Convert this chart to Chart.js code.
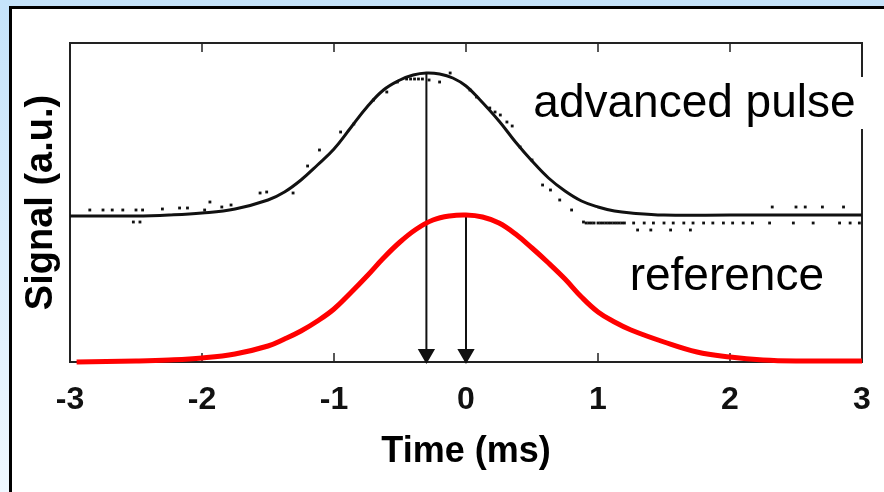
<!DOCTYPE html>
<html>
<head>
<meta charset="utf-8">
<script src="https://cdn.jsdelivr.net/npm/chart.js@4.4.0/dist/chart.umd.min.js"></script>
<style>
  html, body { margin: 0; padding: 0; }
  body {
    width: 884px; height: 492px; overflow: hidden; position: relative;
    background: linear-gradient(to bottom, #c5e3fa 0%, #dbeefd 50%, #eff8ff 100%);
  }
  #panel {
    position: absolute; left: 9px; top: 6px; right: 0; bottom: 0;
    background: #fff; border-left: 3px solid #000; border-top: 3px solid #000;
  }
  #myChart { position: absolute; left: 0; top: 0; }
</style>
</head>
<body>
<div id="panel"></div>
<canvas id="myChart" width="884" height="492"></canvas>
<script>
// time axis (ms)
const xTicks = [-3, -2, -1, 0, 1, 2, 3];

// advanced pulse (fitted curve)
const advX = [-3, -2.5, -2.25, -2, -1.75, -1.5, -1.375, -1.25, -1.125, -1, -0.875, -0.75, -0.625, -0.5, -0.4, -0.3, -0.2, -0.1,
  0, 0.1, 0.25, 0.375, 0.5, 0.625, 0.75, 0.875, 1, 1.125, 1.25, 1.5, 2, 3];
const advY = [1.46, 1.46, 1.47, 1.49, 1.53, 1.62, 1.70, 1.82, 1.97, 2.13, 2.34, 2.55, 2.72, 2.82, 2.87, 2.89, 2.88, 2.84,
  2.76, 2.63, 2.41, 2.20, 2.01, 1.84, 1.71, 1.61, 1.55, 1.51, 1.49, 1.47, 1.47, 1.47];

// advanced pulse (measured points, scattered)
const noiseX = [-2.85, -2.75, -2.68, -2.6, -2.5, -2.45, -2.52, -2.47, -2.3, -2.17, -2.11, -1.98, -1.94, -1.85, -1.78, -1.56, -1.51,
  -1.31, -1.2, -1.11, -0.95, -0.85, -0.7, -0.6, -0.52, -0.45, -0.42, -0.39, -0.36, -0.33, -0.28, -0.2, -0.12,
  0.03, 0.08, 0.18, 0.22, 0.26, 0.31, 0.35, 0.41, 0.5, 0.58, 0.64, 0.71, 0.8,
  0.89, 0.91, 0.93, 0.95, 0.97, 1.0, 1.02, 1.04, 1.06, 1.08, 1.1, 1.12, 1.14, 1.16, 1.18, 1.2,
  1.27, 1.35, 1.42, 1.5, 1.57, 1.65, 1.72, 1.8, 1.87, 1.95, 2.02, 2.1, 2.17, 2.3, 2.48, 2.63, 2.83, 2.91, 2.98,
  1.3, 1.4, 1.55, 1.7, 2.32, 2.5, 2.57, 2.7, 2.86];
const noiseY = [1.52, 1.52, 1.52, 1.52, 1.52, 1.52, 1.40, 1.40, 1.53, 1.54, 1.54, 1.52, 1.60, 1.55, 1.57, 1.69, 1.70,
  1.69, 1.96, 2.12, 2.30, 2.38, 2.62, 2.70, 2.80, 2.83, 2.83, 2.83, 2.83, 2.83, 2.82, 2.80, 2.89,
  2.72, 2.65, 2.54, 2.50, 2.47, 2.40, 2.36, 2.15, 2.02, 1.77, 1.72, 1.62, 1.52,
  1.40, 1.39, 1.39, 1.39, 1.39, 1.39, 1.39, 1.39, 1.39, 1.39, 1.39, 1.39, 1.39, 1.39, 1.39, 1.39,
  1.39, 1.39, 1.39, 1.39, 1.39, 1.39, 1.39, 1.39, 1.39, 1.39, 1.39, 1.39, 1.39, 1.39, 1.39, 1.39, 1.39, 1.39, 1.39,
  1.32, 1.32, 1.32, 1.32, 1.55, 1.55, 1.55, 1.55, 1.55];

// reference pulse
const refX = [-2.95, -2.5, -2.25, -2, -1.75, -1.5, -1.375, -1.25, -1.125, -1, -0.875, -0.75, -0.625, -0.5, -0.375, -0.25, -0.125,
  0, 0.125, 0.25, 0.375, 0.5, 0.625, 0.75, 0.875, 1, 1.125, 1.25, 1.5, 1.75, 2, 2.25, 2.5, 3];
const refY = [0.00, 0.01, 0.02, 0.04, 0.08, 0.16, 0.23, 0.31, 0.41, 0.53, 0.69, 0.86, 1.04, 1.20, 1.33, 1.42, 1.46,
  1.47, 1.45, 1.39, 1.28, 1.14, 0.99, 0.83, 0.65, 0.50, 0.40, 0.32, 0.20, 0.10, 0.05, 0.02, 0.01, 0.01];

// arrows: peak time of each pulse
const arrowX = [-0.3, 0];
const arrowTop = [2.89, 1.47];

const pts = (xs, ys) => xs.map((x, i) => ({ x: x, y: ys[i] }));

const arrowSet = (i) => ({
  data: [{ x: arrowX[i], y: arrowTop[i] }, { x: arrowX[i], y: 0.08 }],
  borderColor: '#111',
  backgroundColor: '#111',
  borderWidth: 2,
  pointRadius: [0, 8],
  pointStyle: 'triangle',
  pointRotation: 180,
  clip: false
});

const framePlugin = {
  id: 'frame',
  beforeDatasetsDraw(chart) {
    const { ctx, chartArea: a, scales: { x } } = chart;
    ctx.save();
    ctx.strokeStyle = '#222';
    ctx.lineWidth = 2;
    ctx.strokeRect(a.left, a.top, a.right - a.left, a.bottom - a.top);
    ctx.lineWidth = 1.5;
    xTicks.forEach((t) => {
      const px = x.getPixelForValue(t);
      ctx.beginPath();
      ctx.moveTo(px, a.bottom);
      ctx.lineTo(px, a.bottom - 9);
      ctx.moveTo(px, a.top);
      ctx.lineTo(px, a.top + 9);
      ctx.stroke();
    });
    ctx.restore();
  },
  afterDraw(chart) {
    const { ctx, scales: { x, y } } = chart;
    ctx.save();
    const ax = x.getPixelForValue(0.51);
    const ay = y.getPixelForValue(2.45);
    ctx.fillStyle = '#fff';
    ctx.fillRect(ax - 3, ay - 40, 884 - ax, 52);
    ctx.fillStyle = '#000';
    ctx.font = '46px "Liberation Sans", Arial, sans-serif';
    ctx.textAlign = 'left';
    ctx.textBaseline = 'alphabetic';
    ctx.fillText('advanced pulse', ax, ay);
    ctx.fillText('reference', x.getPixelForValue(1.24), y.getPixelForValue(0.72));
    ctx.restore();
  }
};

const ctx = document.getElementById('myChart');
new Chart(ctx, {
  type: 'line',
  data: {
    datasets: [
      {
        data: pts(noiseX, noiseY),
        showLine: false,
        pointStyle: 'rect',
        pointRadius: 2,
        backgroundColor: '#111',
        borderWidth: 0
      },
      {
        data: pts(advX, advY),
        borderColor: '#111',
        borderWidth: 3,
        pointRadius: 0,
        tension: 0.4
      },
      {
        data: pts(refX, refY),
        borderColor: '#f00',
        borderWidth: 5,
        pointRadius: 0,
        tension: 0.4,
        clip: 8
      },
      arrowSet(0),
      arrowSet(1)
    ]
  },
  options: {
    responsive: false,
    devicePixelRatio: 1,
    animation: false,
    layout: { padding: { left: 10, right: 22, top: 43, bottom: 0 } },
    plugins: { legend: { display: false }, tooltip: { enabled: false } },
    scales: {
      x: {
        type: 'linear',
        min: -3,
        max: 3,
        afterFit: (s) => { s.height = 130; s.paddingLeft = 0; s.paddingRight = 0; },
        afterBuildTicks: (s) => { s.ticks = xTicks.map((v) => ({ value: v })); },
        grid: { display: false, drawTicks: false },
        border: { display: false },
        ticks: {
          color: '#111',
          padding: 19,
          font: { family: '"Liberation Sans", Arial, sans-serif', size: 32, weight: 'bold' }
        },
        title: {
          display: true,
          text: 'Time (ms)',
          color: '#000',
          padding: { bottom: 18 },
          font: { family: '"Liberation Sans", Arial, sans-serif', size: 36, weight: 'bold' }
        }
      },
      y: {
        min: 0,
        max: 3.19,
        afterFit: (s) => { s.width = 60; },
        grid: { display: false, drawTicks: false },
        border: { display: false },
        ticks: { display: false },
        title: {
          display: true,
          text: 'Signal (a.u.)',
          color: '#000',
          padding: { top: 9 },
          font: { family: '"Liberation Sans", Arial, sans-serif', size: 38, weight: 'bold' }
        }
      }
    }
  },
  plugins: [framePlugin]
});
</script>
</body>
</html>
